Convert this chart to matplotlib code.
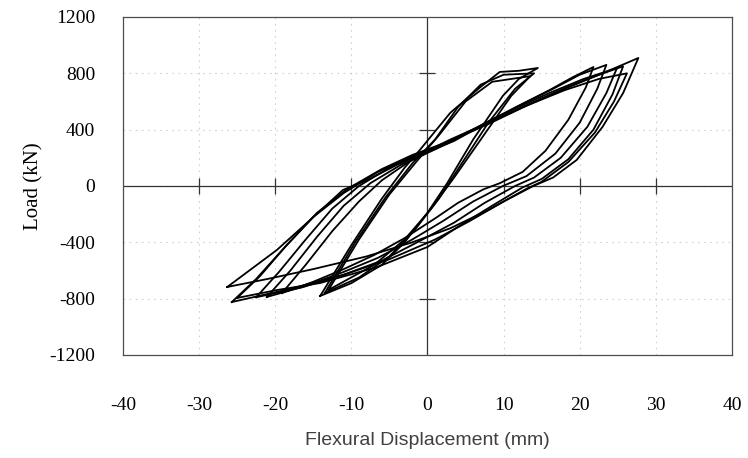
import matplotlib
matplotlib.use("Agg")
import matplotlib.pyplot as plt

# hysteresis loops, (displacement mm, load kN)
# each loop: from negative peak up the upper branch to the positive peak,
# then down the lower branch back to the negative peak
m1_x = [-14.1, -10.0, -6.0, -3.0, -1.0, 3.0, 6.9, 9.5, 12.0, 14.5,
        12.0, 9.9, 6.0, 2.6, 0.0, -3.0, -6.0, -10.0, -14.1]
m1_y = [-781, -420, -90, 130, 256, 520, 700, 810, 818, 838,
        760, 640, 330, 21, -190, -400, -560, -690, -781]

m2_x = [-13.5, -9.5, -5.5, -2.0, 1.0, 4.0, 7.0, 10.0, 14.0,
        11.5, 8.0, 4.5, 1.5, -1.5, -5.0, -9.0, -13.5]
m2_y = [-760, -400, -80, 160, 330, 560, 720, 790, 800,
        690, 450, 160, -90, -300, -500, -650, -760]

m3_x = [-13.0, -9.0, -5.0, -1.5, 1.5, 5.0, 8.5, 13.5,
        11.0, 7.0, 3.5, 0.5, -3.0, -7.0, -13.0]
m3_y = [-738, -380, -60, 170, 360, 600, 740, 780,
        640, 330, 60, -160, -380, -560, -738]

l1_x = [-19.1, -16.0, -12.5, -9.0, -6.0, -2.5, 1.0, 4.0, 8.0, 12.0, 16.0, 19.0, 21.8,
        20.8, 18.5, 15.5, 12.5, 9.5, 7.3, 4.0, 1.0, -3.0, -7.0, -11.0, -15.0, -19.1]
l1_y = [-760, -560, -320, -110, 40, 170, 260, 340, 460, 570, 680, 770, 845,
        700, 470, 250, 100, 20, -25, -120, -230, -370, -490, -590, -680, -760]

l2_x = [-21.1, -18.0, -14.5, -11.0, -7.5, -3.5, 0.0, 3.5, 7.5, 12.0, 16.5, 20.0, 23.5,
        22.3, 20.0, 16.8, 13.0, 9.9, 6.0, 2.0, -2.0, -6.5, -11.0, -16.0, -21.1]
l2_y = [-788, -600, -360, -140, 20, 150, 240, 320, 440, 570, 690, 790, 860,
        690, 450, 230, 70, 0, -110, -250, -380, -510, -610, -710, -788]

l3_x = [-22.5, -19.5, -16.0, -12.5, -9.0, -5.0, -1.0, 3.0, 7.0, 11.5, 16.0, 20.5, 24.9,
        23.5, 21.0, 17.5, 14.0, 11.5, 7.5, 3.5, -1.0, -6.0, -11.0, -16.5, -22.5]
l3_y = [-790, -610, -380, -160, 0, 130, 230, 320, 430, 550, 660, 760, 838,
        660, 420, 200, 60, 0, -120, -260, -390, -530, -630, -720, -790]

l4_x = [-25.0, -22.0, -18.5, -14.5, -10.5, -6.0, -2.0, 2.5, 7.0, 12.0, 17.0, 21.5, 25.7,
        24.3, 21.8, 18.5, 15.0, 12.5, 8.5, 4.0, 0.0, -6.6, -14.1, -19.8, -25.0]
l4_y = [-795, -640, -420, -190, -20, 120, 220, 310, 420, 550, 670, 770, 850,
        650, 400, 190, 50, -10, -140, -290, -433, -575, -689, -739, -795]

l5_x = [-25.7, -22.5, -19.0, -15.0, -11.0, -6.5, -2.0, 3.0, 8.0, 13.0, 18.0, 23.0, 27.7,
        25.7, 23.0, 19.6, 16.5, 13.9, 10.0, 5.5, 1.0, -5.0, -11.0, -18.0, -25.7]
l5_y = [-824, -660, -450, -220, -50, 100, 210, 320, 440, 570, 690, 800, 909,
        660, 420, 185, 60, 0, -110, -250, -380, -520, -630, -730, -824]

l6_x = [-26.3, -19.8, -15.4, -11.1, -7.9, -4.0, 0.0, 3.0, 8.0, 13.0, 18.0, 22.5, 26.2,
        24.5, 22.0, 18.5, 15.0, 13.0, 8.0, 3.0, -2.0, -8.0, -15.0, -21.0, -26.3]
l6_y = [-717, -455, -241, -28, 43, 150, 250, 330, 450, 570, 680, 760, 800,
        600, 380, 170, 30, -20, -170, -300, -400, -500, -590, -660, -717]

loops = [(m1_x, m1_y), (m2_x, m2_y), (m3_x, m3_y),
         (l1_x, l1_y), (l2_x, l2_y), (l3_x, l3_y), (l4_x, l4_y),
         (l5_x, l5_y), (l6_x, l6_y)]

x_ticks = [-40, -30, -20, -10, 0, 10, 20, 30, 40]
y_ticks = [-1200, -800, -400, 0, 400, 800, 1200]

plt.rcParams['font.family'] = ['Liberation Serif', 'DejaVu Serif']
plt.rcParams['axes.unicode_minus'] = False

fig = plt.figure(figsize=(7.48, 4.58), dpi=100)
ax = fig.add_axes([0.1644, 0.2249, 0.8142, 0.7380])

ax.set_xlim(-40, 40)
ax.set_ylim(-1200, 1200)
ax.set_xticks(x_ticks)
ax.set_yticks(y_ticks)
ax.grid(True, linestyle=(0, (1.5, 4)), color='0.82', linewidth=0.8)

ax.axhline(0, color='0.2', linewidth=0.9)
ax.axvline(0, color='0.2', linewidth=0.9)
# cross-shaped ticks on the centre axes
inner_x = [t for t in x_ticks if t not in (-40, 0, 40)]
inner_y = [t for t in y_ticks if t not in (-1200, 0, 1200)]
ax.plot(inner_x, [0] * len(inner_x), linestyle='none', marker='|',
        markersize=12, color='0.2', markeredgewidth=0.9)
ax.plot([0] * len(inner_y), inner_y, linestyle='none', marker='_',
        markersize=12, color='0.2', markeredgewidth=0.9)

for lx, ly in loops:
    ax.plot(lx, ly, color='black', linewidth=1.3)

for side in ['top', 'bottom', 'left', 'right']:
    ax.spines[side].set_color('0.3')
    ax.spines[side].set_linewidth(0.9)

ax.tick_params(axis='x', length=0, pad=30, labelsize=14)
ax.tick_params(axis='y', length=0, pad=20, labelsize=14)

ax.set_ylabel('Load (kN)', fontsize=15, labelpad=4)
ax.set_xlabel('Flexural Displacement (mm)', fontsize=14, color='0.25',
              family=['Liberation Sans', 'DejaVu Sans'], labelpad=13)

fig.savefig('out.png', dpi=100)
